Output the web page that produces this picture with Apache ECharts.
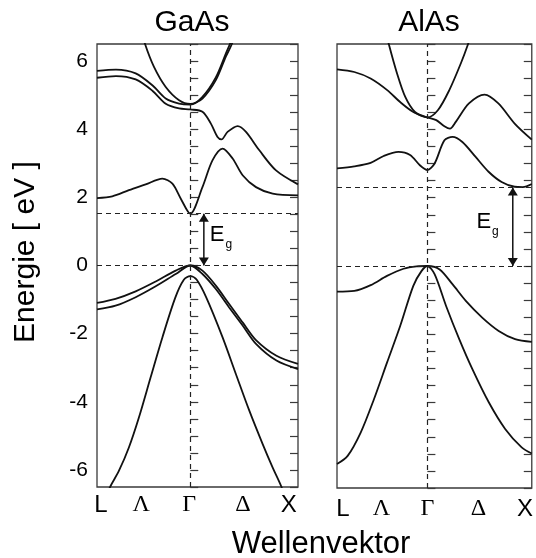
<!DOCTYPE html>
<html>
<head>
<meta charset="utf-8">
<script src="https://cdn.jsdelivr.net/npm/echarts@6/dist/echarts.min.js"></script>
<style>
html,body{margin:0;padding:0;background:#fff;}
#c{width:536px;height:558px;}
</style>
</head>
<body>
<div id="c"></div>
<script>
// ---- data (k: L=-0.866, Γ=0, X=1 ; E in eV) ----
const kTickLabels = ['L', 'Λ', 'Γ', 'Δ', 'X'];
const kLabelPosGaAs = [-0.83, -0.455, -0.01, 0.49, 0.915];
const kLabelPosAlAs = [-0.81, -0.44, 0, 0.49, 0.935];
const energyTicks = [-6, -4, -2, 0, 2, 4, 6];

const gapGaAs = 1.52;
const gapAlAs = 2.30;
const arrowKGaAs = 0.126;
const arrowKAlAs = 0.818;

// GaAs conduction bands
const gaasC1 = [[-0.866,1.98],[-0.724,2.03],[-0.57,2.21],[-0.414,2.38],[-0.259,2.55],[-0.166,2.40],[-0.088,1.96],[0,1.52],[0.113,2.30],[0.207,3.09],[0.30,3.43],[0.393,3.14],[0.486,2.65],[0.61,2.30],[0.765,2.11],[1,2.06]];
const gaasC2Upper = [[-0.866,5.71],[-0.69,5.75],[-0.507,5.64],[-0.352,5.29],[-0.228,4.90],[-0.104,4.75],[0,4.72],[0.113,4.95],[0.237,5.52],[0.33,6.22],[0.38,6.6],[0.40,6.9]];
const gaasC2Lower = [[-0.866,5.51],[-0.69,5.56],[-0.507,5.46],[-0.352,5.13],[-0.228,4.75],[-0.104,4.61],[0,4.58],[0.113,4.51],[0.19,4.17],[0.253,3.77],[0.29,3.70],[0.346,3.92],[0.44,4.09],[0.517,3.92],[0.641,3.38],[0.796,2.79],[1,2.38]];
const gaasC3 = [[-0.45,6.9],[-0.42,6.5],[-0.337,5.83],[-0.228,5.24],[-0.104,4.85],[0,4.74],[0.113,4.90],[0.237,5.44],[0.33,6.13],[0.386,6.5],[0.41,6.8]];
// GaAs valence bands
const gaasVUpper = [[-0.866,-1.10],[-0.694,-0.98],[-0.507,-0.76],[-0.321,-0.47],[-0.135,-0.15],[0,0],[0.113,-0.15],[0.237,-0.59],[0.361,-1.13],[0.486,-1.67],[0.61,-2.19],[0.80,-2.65],[1,-2.89]];
const gaasVLower = [[-0.866,-1.29],[-0.694,-1.18],[-0.507,-0.93],[-0.321,-0.61],[-0.135,-0.25],[0,0],[0.113,-0.25],[0.237,-0.69],[0.361,-1.23],[0.486,-1.76],[0.61,-2.30],[0.80,-2.79],[1,-3.04]];
const gaasVSplit = [[-0.80,-6.9],[-0.74,-6.47],[-0.663,-6.03],[-0.57,-5.34],[-0.477,-4.46],[-0.368,-3.28],[-0.259,-2.11],[-0.14,-0.95],[-0.06,-0.42],[0,-0.31],[0.06,-0.42],[0.15,-0.95],[0.30,-2.11],[0.424,-3.19],[0.548,-4.26],[0.672,-5.24],[0.765,-5.93],[0.843,-6.47],[0.89,-6.9]];

// AlAs conduction bands
const alasC1 = [[-0.866,2.86],[-0.70,2.92],[-0.544,3.02],[-0.419,3.22],[-0.277,3.34],[-0.166,3.25],[-0.072,2.95],[0,2.81],[0.069,3.0],[0.163,3.68],[0.241,3.78],[0.335,3.63],[0.46,3.20],[0.586,2.76],[0.711,2.46],[0.836,2.32],[0.914,2.31],[1,2.40]];
const alasC2 = [[-0.866,5.76],[-0.70,5.68],[-0.544,5.49],[-0.385,5.15],[-0.261,4.80],[-0.135,4.51],[0,4.35],[0.085,4.27],[0.163,4.09],[0.216,4.02],[0.272,4.22],[0.398,4.76],[0.548,5.02],[0.68,4.76],[0.836,4.17],[1,3.70]];
const alasC3 = [[-0.40,6.9],[-0.37,6.5],[-0.29,5.63],[-0.212,4.95],[-0.119,4.51],[0,4.35],[0.10,4.56],[0.21,5.15],[0.32,5.93],[0.39,6.5],[0.42,6.8]];
// AlAs valence bands
const alasV1 = [[-0.866,-0.75],[-0.70,-0.73],[-0.543,-0.56],[-0.387,-0.29],[-0.229,-0.08],[-0.104,-0.01],[0,0],[0.117,-0.10],[0.242,-0.54],[0.368,-1.02],[0.525,-1.51],[0.683,-1.90],[0.84,-2.14],[1,-2.22]];
const alasV2 = [[-0.866,-5.80],[-0.764,-5.56],[-0.638,-4.87],[-0.512,-3.90],[-0.387,-2.83],[-0.26,-1.75],[-0.135,-0.58],[-0.057,-0.15],[0,0],[0.069,-0.24],[0.179,-1.17],[0.305,-2.14],[0.431,-3.02],[0.588,-3.99],[0.745,-4.77],[0.903,-5.31],[1,-5.49]];

// ---- chart ----
const INK = '#111';
const FRAME = '#3a3a3a';
const SANS = '"Liberation Sans", Arial, Helvetica, sans-serif';
const SERIF = '"Liberation Serif", "Times New Roman", serif';

function band(data, gi) {
  return {
    type: 'line', xAxisIndex: gi, yAxisIndex: gi * 2, data: data,
    smooth: 0.3, showSymbol: false, symbol: 'none', silent: true,
    lineStyle: { color: INK, width: 1.8, opacity: 1 }, z: 3
  };
}

function kLabelFormatter(positions) {
  return function (v) {
    let best = 0, bd = Infinity;
    positions.forEach((p, i) => { const d = Math.abs(p - v); if (d < bd) { bd = d; best = i; } });
    const t = kTickLabels[best];
    return (t === 'L' || t === 'X') ? '{s|' + t + '}' : '{g|' + t + '}';
  };
}
const kRich = {
  s: { fontFamily: SANS, fontSize: 24, color: '#000' },
  g: { fontFamily: SERIF, fontSize: 24, color: '#000' }
};

function xAxisFor(gi, positions, margin) {
  return {
    gridIndex: gi, type: 'value', min: -0.866, max: 1,
    axisLine: { show: false }, axisTick: { show: false }, splitLine: { show: false },
    axisLabel: { show: true, customValues: positions, formatter: kLabelFormatter(positions), rich: kRich, margin: margin, color: '#000' }
  };
}
function yAxisFor(gi, pos, showLabels) {
  return {
    gridIndex: gi, type: 'value', position: pos, min: -6.5, max: 6.5, interval: 0.5,
    axisLine: { show: false }, splitLine: { show: false },
    axisTick: { show: true, inside: true, length: 8, lineStyle: { color: FRAME, width: 1.2 } },
    axisLabel: {
      show: showLabels, margin: 9, fontSize: 21, fontFamily: SANS, color: '#000', opacity: 1,
      formatter: v => (energyTicks.indexOf(Math.round(v * 100) / 100) >= 0 ? String(Math.round(v)) : '')
    }
  };
}

function gapDecor(gi, k, gap, labelSide, labelDist) {
  return [
    {
      type: 'line', xAxisIndex: gi, yAxisIndex: gi * 2, data: [[k, 0], [k, gap]],
      showSymbol: false, symbol: 'none', silent: true, lineStyle: { color: INK, width: 1.5, opacity: 1 }, z: 4,
      markLine: {
        silent: true, symbol: 'none', label: { show: false }, animation: false,
        lineStyle: { type: [5, 4], color: '#222', width: 1.2, opacity: 1 },
        data: [{ yAxis: 0 }, { yAxis: gap }, { xAxis: 0 }]
      }
    },
    {
      type: 'scatter', xAxisIndex: gi, yAxisIndex: gi * 2, silent: true, z: 5,
      symbol: 'triangle', symbolSize: [10, 8], itemStyle: { color: INK, opacity: 1 },
      data: [
        { value: [k, gap], symbolRotate: 0, symbolOffset: [0, '50%'] },
        { value: [k, 0], symbolRotate: 180, symbolOffset: [0, '-50%'] }
      ]
    },
    {
      type: 'scatter', xAxisIndex: gi, yAxisIndex: gi * 2, silent: true, z: 5,
      symbolSize: 0, itemStyle: { opacity: 1 }, data: [[k, gap / 2]],
      label: {
        show: true, position: labelSide, distance: labelDist, formatter: '{e|E}{s|g}', opacity: 1, color: '#000',
        rich: {
          e: { fontFamily: SANS, fontSize: 22, color: '#000', lineHeight: 22, padding: [0, 0, 5, 0], verticalAlign: 'bottom' },
          s: { fontFamily: SANS, fontSize: 12, color: '#000', lineHeight: 12, verticalAlign: 'bottom', padding: [0, 0, 0, 1] }
        }
      }
    }
  ];
}

const chart = echarts.init(document.getElementById('c'), null, { renderer: 'canvas' });
const option = {
  animation: false,
  backgroundColor: '#fff',
  grid: [
    { left: 97, top: 44, width: 201, height: 443, show: true, borderColor: FRAME, borderWidth: 1.3, backgroundColor: 'transparent' },
    { left: 337, top: 44, width: 198, height: 444, show: true, borderColor: FRAME, borderWidth: 1.3, backgroundColor: 'transparent' }
  ],
  xAxis: [xAxisFor(0, kLabelPosGaAs, 6), xAxisFor(1, kLabelPosAlAs, 9)],
  yAxis: [yAxisFor(0, 'left', true), yAxisFor(0, 'right', false), yAxisFor(1, 'left', false), yAxisFor(1, 'right', false)],
  series: [
    band(gaasC1, 0), band(gaasC2Upper, 0), band(gaasC2Lower, 0), band(gaasC3, 0),
    band(gaasVUpper, 0), band(gaasVLower, 0), band(gaasVSplit, 0),
    band(alasC1, 1), band(alasC2, 1), band(alasC3, 1),
    band(alasV1, 1), band(alasV2, 1),
    ...gapDecor(0, arrowKGaAs, gapGaAs, 'right', 6),
    ...gapDecor(1, arrowKAlAs, gapAlAs, 'left', 14)
  ],
  graphic: [
    { type: 'text', x: 192, y: 23, style: { text: 'GaAs', font: '30px ' + SANS, fill: '#000', align: 'center', verticalAlign: 'middle', textAlign: 'center', textVerticalAlign: 'middle' } },
    { type: 'text', x: 429, y: 23, style: { text: 'AlAs', font: '30px ' + SANS, fill: '#000', align: 'center', verticalAlign: 'middle', textAlign: 'center', textVerticalAlign: 'middle' } },
    { type: 'text', x: 26, y: 252, rotation: Math.PI / 2, style: { text: 'Energie [ eV ]', font: '30px ' + SANS, fill: '#000', align: 'center', verticalAlign: 'middle', textAlign: 'center', textVerticalAlign: 'middle' } },
    { type: 'text', x: 321, y: 544, style: { text: 'Wellenvektor', font: '31px ' + SANS, fill: '#000', align: 'center', verticalAlign: 'middle', textAlign: 'center', textVerticalAlign: 'middle' } }
  ]
};
chart.setOption(option);
</script>
</body>
</html>
